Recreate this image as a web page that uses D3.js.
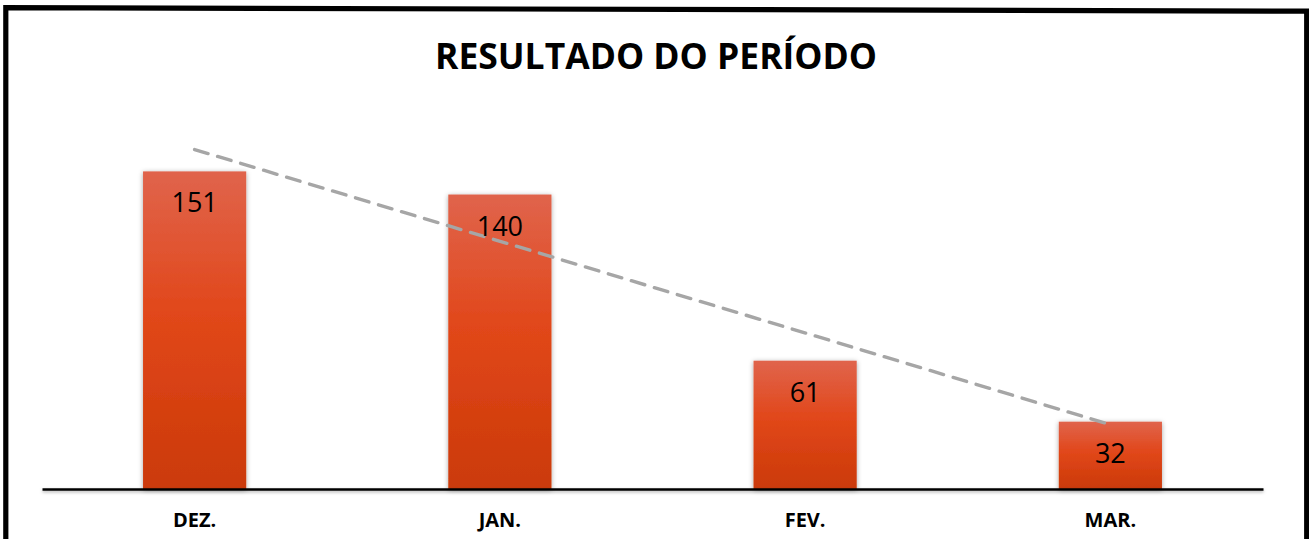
<!DOCTYPE html>
<html><head><meta charset="utf-8">
<script src="https://cdn.jsdelivr.net/npm/d3@7"></script>
<style>html,body{margin:0;padding:0;background:#fff;}svg{display:block;}</style>
</head><body>
<script>
const categories = ["DEZ.", "JAN.", "FEV.", "MAR."];
const values = [151, 140, 61, 32];
const title = "RESULTADO DO PERÍODO";

const W = 1309, H = 539;
const svg = d3.select("body").append("svg").attr("width", W).attr("height", H);
const defs = svg.append("defs");
const grad = defs.append("linearGradient").attr("id","barGrad").attr("x1",0).attr("y1",0).attr("x2",0).attr("y2",1);
grad.append("stop").attr("offset","0%").attr("stop-color","#e0644c");
grad.append("stop").attr("offset","45%").attr("stop-color","#e1471a");
grad.append("stop").attr("offset","100%").attr("stop-color","#cb3a08");
const f = defs.append("filter").attr("id","shadow").attr("x","-20%").attr("y","-20%").attr("width","140%").attr("height","140%");
f.append("feDropShadow").attr("dx",0).attr("dy",1).attr("stdDeviation",2.5).attr("flood-color","#000").attr("flood-opacity",0.35);
const f2 = defs.append("filter").attr("id","lineShadow").attr("filterUnits","userSpaceOnUse")
  .attr("x",0).attr("y",-10).attr("width",W).attr("height",20);
f2.append("feDropShadow").attr("dx",0).attr("dy",1.5).attr("stdDeviation",1.5).attr("flood-color","#000").attr("flood-opacity",0.3);

// frame
svg.append("path").attr("d","M5.8,539 L5.8,7.6 L1306.7,11.2 L1306.7,539")
  .attr("fill","none").attr("stroke","#000").attr("stroke-width",5.2).attr("stroke-linejoin","miter");

const x = d3.scaleBand().domain(categories).range([42, 1263]).paddingInner(0.662).paddingOuter(0.331);
const y = d3.scaleLinear().domain([0, 180]).range([489, 489 - 378.6]);

svg.append("text").attr("x", 656).attr("y", 69).attr("text-anchor","middle")
  .attr("font-family","'Open Sans'").attr("font-weight",700).attr("font-size",36)
  .attr("textLength",442).attr("lengthAdjust","spacingAndGlyphs").attr("fill","#000").text(title);

svg.append("g").selectAll("rect").data(values).join("rect")
  .attr("x",(d,i)=>x(categories[i])).attr("y",d=>y(d))
  .attr("width",x.bandwidth()).attr("height",d=>y(0)-y(d))
  .attr("fill","url(#barGrad)").attr("filter","url(#shadow)");

// axis
const axis = svg.append("g").attr("transform",`translate(0,${y(0)})`)
  .call(d3.axisBottom(x).tickSize(0).tickPadding(0));
axis.select(".domain").attr("stroke","#000").attr("stroke-width",2.4).attr("filter","url(#lineShadow)");
axis.selectAll(".tick text").attr("y",38).attr("dy",0)
  .attr("font-family","'Open Sans'").attr("font-weight",700).attr("font-size",20).attr("fill","#000");

// trendline (linear least squares)
const n = values.length;
const xs = values.map((d,i)=>i+1);
const mx = d3.mean(xs), my = d3.mean(values);
const slope = d3.sum(xs.map((xi,i)=>(xi-mx)*(values[i]-my))) / d3.sum(xs.map(xi=>(xi-mx)*(xi-mx)));
const icpt = my - slope*mx;
const cx = c => x(c) + x.bandwidth()/2;
svg.append("line")
  .attr("x1", cx(categories[0])).attr("y1", y(icpt + slope*1))
  .attr("x2", cx(categories[n-1])).attr("y2", y(icpt + slope*n))
  .attr("stroke","#a6a6a6").attr("stroke-width",3.4).attr("stroke-dasharray","14,10").attr("stroke-linecap","round");

// labels
svg.append("g").selectAll("text").data(values).join("text")
  .attr("x",(d,i)=>cx(categories[i])).attr("y",d=>y(d)+41)
  .attr("text-anchor","middle").attr("font-family","'Open Sans'").attr("font-size",27).attr("fill","#000")
  .text(d=>d);
</script>
</body></html>
